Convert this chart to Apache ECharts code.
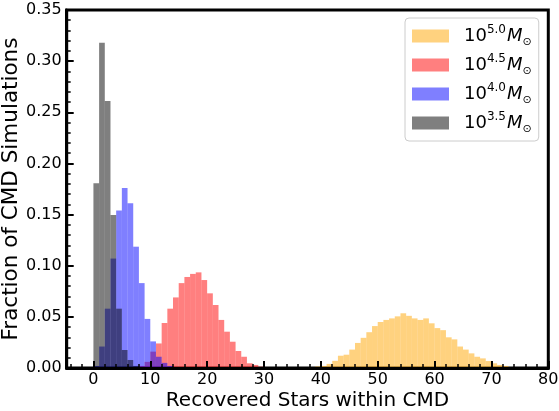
<!DOCTYPE html>
<html>
<head>
<meta charset="utf-8">
<script src="https://cdn.jsdelivr.net/npm/echarts@6/dist/echarts.min.js"></script>
<style>
  html, body { margin: 0; padding: 0; background: #fff; }
  #chart { width: 559px; height: 411px; }
</style>
</head>
<body>
<div id="chart"></div>
<script>
// ---- Data (bin left edges, bin width 1) ----
const binWidth = 1;

const edges50 = [37,38,39,40,41,42,43,44,45,46,47,48,49,50,51,52,53,54,55,56,57,58,59,60,61,62,63,64,65,66,67,68,69,70,71,72,73,74,75];
const frac50  = [0.0005,0.001,0.0015,0.002,0.004,0.007,0.012,0.013,0.018,0.0245,0.0295,0.035,0.041,0.045,0.047,0.0485,0.0505,0.0535,0.051,0.0485,0.047,0.0485,0.0437,0.039,0.037,0.030,0.028,0.021,0.018,0.0143,0.011,0.0094,0.0068,0.0046,0.003,0.002,0.001,0.0006,0.0003];

const edges45 = [8,9,10,11,12,13,14,15,16,17,18,19,20,21,22,23,24,25,26,27,28,29,30];
const frac45  = [0.002,0.006,0.016,0.024,0.044,0.058,0.069,0.083,0.089,0.092,0.0935,0.086,0.073,0.0616,0.047,0.0355,0.0257,0.0166,0.011,0.0046,0.003,0.0013,0.0005];

const edges40 = [0,1,2,3,4,5,6,7,8,9,10,11,12,13,14];
const frac40  = [0.002,0.021,0.058,0.107,0.154,0.176,0.161,0.1186,0.083,0.048,0.026,0.011,0.005,0.002,0.001];

const edges35 = [0,1,2,3,4,5,6,7,8];
const frac35  = [0.1805,0.318,0.261,0.1496,0.058,0.0176,0.0078,0.002,0.0005];

const seriesExponents = ['5.0', '4.5', '4.0', '3.5'];
const seriesColors = ['rgba(255,165,0,0.5)', 'rgba(255,0,0,0.5)', 'rgba(0,0,255,0.5)', 'rgba(0,0,0,0.5)'];

const xMajorTicks = [0,10,20,30,40,50,60,70,80];
const xMinorTicks = [-4,-2,2,4,6,8,12,14,16,18,22,24,26,28,32,34,36,38,42,44,46,48,52,54,56,58,62,64,66,68,72,74,76,78];

const xTitle = 'Recovered Stars within CMD';
const yTitle = 'Fraction of CMD Simulations';

// ---- Chart ----
const FONT = 'DejaVu Sans';
const chart = echarts.init(document.getElementById('chart'), null, { renderer: 'canvas' });

function pairs(edges, vals) { return edges.map((e, i) => [e, vals[i]]); }
const allData = [pairs(edges50, frac50), pairs(edges45, frac45), pairs(edges40, frac40), pairs(edges35, frac35)];

function makeRender(color) {
  return function (params, api) {
    const x0 = api.value(0), v = api.value(1);
    const p0 = api.coord([x0, 0]);
    const p1 = api.coord([x0 + binWidth, v]);
    return {
      type: 'rect',
      shape: { x: p0[0], y: p1[1], width: p1[0] - p0[0], height: p0[1] - p1[1] },
      style: { fill: color }
    };
  };
}

const names = seriesExponents.map(e => '10^' + e + ' M⊙');

const series = allData.map((d, i) => ({
  type: 'custom',
  name: names[i],
  xAxisIndex: 0,
  yAxisIndex: 0,
  renderItem: makeRender(seriesColors[i]),
  itemStyle: { color: seriesColors[i] },
  encode: { x: 0, y: 1 },
  data: d,
  clip: true,
  z: 2 + i
}));

const option = {
  animation: false,
  backgroundColor: '#fff',
  textStyle: { fontFamily: FONT },
  grid: {
    left: 66.7, right: 10.7, top: 10, bottom: 43,
    outerBoundsMode: 'none',
    containLabel: false,
    show: true, borderColor: '#000', borderWidth: 3, backgroundColor: 'transparent'
  },
  legend: {
    orient: 'vertical',
    left: 405, top: 18,
    padding: [6, 7, 6, 7],
    itemWidth: 37, itemHeight: 13, itemGap: 5,
    icon: 'rect',
    backgroundColor: 'rgba(255,255,255,0.8)',
    borderColor: '#cccccc', borderWidth: 1, borderRadius: 4,
    data: names,
    formatter: function (name) {
      const exp = name.slice(3, 6);
      return '{b|10}{s|' + exp + '}{m|M}{o|⊙}';
    },
    textStyle: {
      padding: [0, 0, 0, 10],
      fontFamily: FONT,
      color: '#000',
      rich: {
        b: { fontSize: 18, lineHeight: 24, verticalAlign: 'middle', fontFamily: FONT, color: '#000' },
        s: { fontSize: 12, lineHeight: 14, verticalAlign: 'top', fontFamily: FONT, color: '#000' },
        m: { fontSize: 18, lineHeight: 24, verticalAlign: 'middle', fontStyle: 'italic', fontFamily: FONT, color: '#000', padding: [0, 0, 0, 1] },
        o: { fontSize: 11, lineHeight: 17, verticalAlign: 'bottom', fontFamily: FONT, color: '#000' }
      }
    }
  },
  xAxis: [
    {
      type: 'value', min: -4.7, max: 80, position: 'bottom', z: 10,
      name: xTitle, nameLocation: 'middle', nameGap: 23, nameMoveOverlap: false,
      nameTextStyle: { fontSize: 20, color: '#000', fontFamily: FONT },
      axisLine: { show: true, onZero: false, lineStyle: { color: '#000', width: 3 } },
      axisTick: { show: true, inside: true, length: 7, customValues: xMajorTicks, lineStyle: { color: '#000', width: 2 } },
      axisLabel: { show: true, margin: 4, fontSize: 16, color: '#000', fontFamily: FONT, customValues: xMajorTicks },
      splitLine: { show: false }
    },
    {
      type: 'value', min: -4.7, max: 80, position: 'bottom', z: 10,
      axisLine: { show: false, onZero: false },
      axisTick: { show: true, inside: true, length: 4, customValues: xMinorTicks, lineStyle: { color: '#000', width: 1.5 } },
      axisLabel: { show: false },
      splitLine: { show: false }
    }
  ],
  yAxis: {
    type: 'value', min: 0, max: 0.35, interval: 0.05, z: 10,
    name: yTitle, nameLocation: 'middle', nameGap: 44, nameMoveOverlap: false,
    nameTextStyle: { fontSize: 21.5, color: '#000', fontFamily: FONT },
    axisLine: { show: true, onZero: false, lineStyle: { color: '#000', width: 3 } },
    axisTick: { show: true, inside: true, length: 7, lineStyle: { color: '#000', width: 2 } },
    minorTick: { show: true, splitNumber: 5, length: 4, lineStyle: { color: '#000', width: 1.5 } },
    axisLabel: { margin: 5, fontSize: 16, color: '#000', fontFamily: FONT, formatter: v => v.toFixed(2) },
    splitLine: { show: false }
  },
  series: series
};

chart.setOption(option);
</script>
</body>
</html>
